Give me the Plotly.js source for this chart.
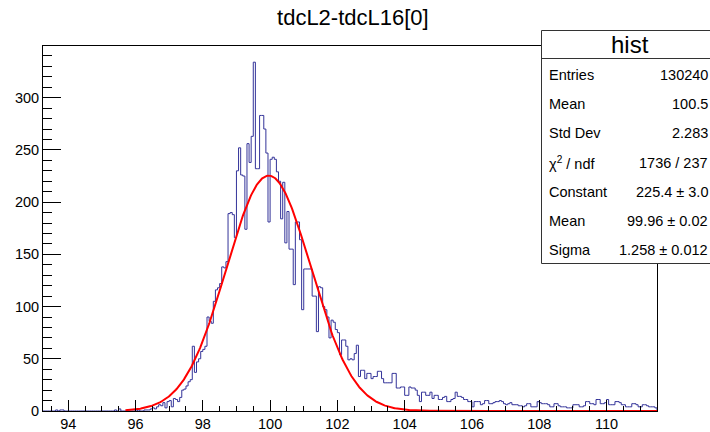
<!DOCTYPE html>
<html>
<head>
<meta charset="utf-8">
<script src="https://cdn.plot.ly/plotly-3.0.1.min.js"></script>
<style>
  html, body { margin: 0; padding: 0; background: #fff; }
  #chart { width: 710px; height: 432px; }
</style>
</head>
<body>
<div id="chart"></div>
<script>
// ---- Histogram definition (bins of 0.0625 from 93.25 to 111.5) ----
const binLow = 93.25;
const binWidth = 0.0625;

// bin contents, bins 0..291
const counts = [
  0,0,0,0,0,0,1,0,1,1,
  0,0,0,0,0,0,0,0,0,0,
  0,0,0,0,0,0,0,0,0,0,
  0,0,0,0,1,0,2,0,0,0,
  0,0,0,0,0,1,0,0,1,1,
  1,2,3,2,4,6,5,8,3,9,
  10,4,12,11,9,13,20,21,24,28,
  30,62,37,47,50,57,59,62,90,86,
  84,105,116,118,122,138,137,143,189,190,
  188,166,230,252,226,225,174,256,238,263,
  334,232,232,283,283,270,247,181,241,243,
  241,229,220,184,219,161,191,155,155,121,
  181,181,164,97,136,136,136,136,110,110,
  76,119,118,100,97,90,70,87,85,78,
  75,54,68,68,62,49,50,49,55,63,
  33,39,39,31,36,36,31,33,33,38,
  38,31,27,27,27,27,36,36,22,22,
  23,23,15,15,23,22,22,20,15,9,
  18,18,15,15,18,12,15,15,11,11,
  13,14,9,9,11,12,18,14,14,13,
  11,11,9,9,4,9,9,9,6,7,
  10,10,7,7,8,9,9,10,9,7,
  6,7,8,6,6,6,5,5,4,5,
  7,7,4,4,4,9,8,7,7,7,
  6,4,4,7,7,5,4,4,4,3,
  3,3,6,6,6,4,4,5,9,9,
  7,7,6,11,11,7,7,8,11,6,
  6,6,9,9,8,6,6,4,4,4,
  7,7,6,4,4,6,6,5,4,4,
  4,3
];

// ---- Gaussian fit parameters (as printed in the stat box) ----
const fitConstant = 225.4;
const fitMean = 99.96;
const fitSigma = 1.258;
const fitLow = 95.7;
const fitHigh = 111.5;

// ---- Axis ----
const yMax = 349.5;

// ---- Stat box texts ----
const statTitle = "hist";
const statLabels = ["Entries", "Mean", "Std Dev", "\u03c7<sup>2</sup> / ndf", "Constant", "Mean", "Sigma"];
const statValues = ["130240", "100.5", "2.283", "1736 / 237", "225.4 \u00b1 3.0", "99.96 \u00b1 0.02", "1.258 \u00b1 0.012"];

const titleText = "tdcL2-tdcL16[0]";

// Step outline of the histogram
const hx = [binLow], hy = [0];
for (let i = 0; i < counts.length; i++) {
  hx.push(binLow + i * binWidth);
  hy.push(counts[i]);
}
const binHigh = binLow + counts.length * binWidth;
hx.push(binHigh); hy.push(counts[counts.length - 1]);
hx.push(binHigh); hy.push(0);

// Fit function curve
const fx = [], fy = [];
for (let x = fitLow; x <= fitHigh + 1e-9; x += 0.02) {
  fx.push(x);
  fy.push(fitConstant * Math.exp(-0.5 * Math.pow((x - fitMean) / fitSigma, 2)));
}

const FONT = "Liberation Sans, Arial, Helvetica, sans-serif";

const traces = [
  { x: hx, y: hy, type: "scatter", mode: "lines",
    line: { shape: "hv", color: "#333399", width: 1 }, hoverinfo: "skip" },
  { x: fx, y: fy, type: "scatter", mode: "lines",
    line: { color: "#ff0000", width: 2 }, hoverinfo: "skip" }
];

// geometry helpers for the stat box (paper coordinates)
const L = 43, R = 657, T = 46, B = 411;
const px = p => (p - L) / (R - L);
const py = p => (B - p) / (B - T);

const annotations = [
  { text: statTitle, xref: "paper", yref: "paper", x: px(630), y: py(45), xanchor: "center", yanchor: "middle",
    showarrow: false, font: { family: FONT, size: 24, color: "#000" } }
];
for (let k = 0; k < statLabels.length; k++) {
  const yy = py(75 + 29.17 * k);
  annotations.push({ text: statLabels[k], xref: "paper", yref: "paper", x: px(547), y: yy,
    xanchor: "left", yanchor: "middle", showarrow: false, font: { family: FONT, size: 14.5, color: "#000" } });
  annotations.push({ text: statValues[k], xref: "paper", yref: "paper", x: px(710), y: yy,
    xanchor: "right", yanchor: "middle", showarrow: false, font: { family: FONT, size: 14.5, color: "#000" } });
}

const layout = {
  width: 710, height: 432,
  margin: { l: L, r: 710 - R, t: T, b: 432 - B, pad: 0 },
  paper_bgcolor: "#fff", plot_bgcolor: "#fff",
  showlegend: false,
  title: { text: titleText, x: 0.497, xref: "container", xanchor: "center", y: 1 - 17 / 432, yref: "container", yanchor: "middle",
    font: { family: FONT, size: 22, color: "#000" } },
  xaxis: {
    range: [binLow, binHigh], tick0: 94, dtick: 2, ticks: "inside", ticklen: 11, tickcolor: "#000", tickwidth: 1,
    minor: { tick0: 94, dtick: 0.5, ticks: "inside", ticklen: 5.5, tickcolor: "#000", tickwidth: 1 },
    showline: true, linecolor: "#000", linewidth: 1, mirror: true, showgrid: false, zeroline: false,
    tickfont: { family: FONT, size: 14.5, color: "#000" }, fixedrange: true
  },
  yaxis: {
    range: [0, yMax], tick0: 0, dtick: 50, ticks: "inside", ticklen: 18, tickcolor: "#000", tickwidth: 1,
    minor: { tick0: 0, dtick: 10, ticks: "inside", ticklen: 9, tickcolor: "#000", tickwidth: 1 },
    showline: true, linecolor: "#000", linewidth: 1, mirror: true, showgrid: false, zeroline: false,
    tickfont: { family: FONT, size: 14.5, color: "#000" }, fixedrange: true
  },
  shapes: [
    { type: "rect", xref: "paper", yref: "paper", x0: px(541.5), x1: px(730), y0: py(263.5), y1: py(30.5),
      line: { color: "#333", width: 1 }, fillcolor: "#fff", layer: "above" },
    { type: "line", xref: "paper", yref: "paper", x0: px(541.5), x1: px(730), y0: py(58.5), y1: py(58.5),
      line: { color: "#333", width: 1 }, layer: "above" }
  ],
  annotations: annotations
};

Plotly.newPlot("chart", traces, layout, { staticPlot: true, displayModeBar: false });
</script>
</body>
</html>
